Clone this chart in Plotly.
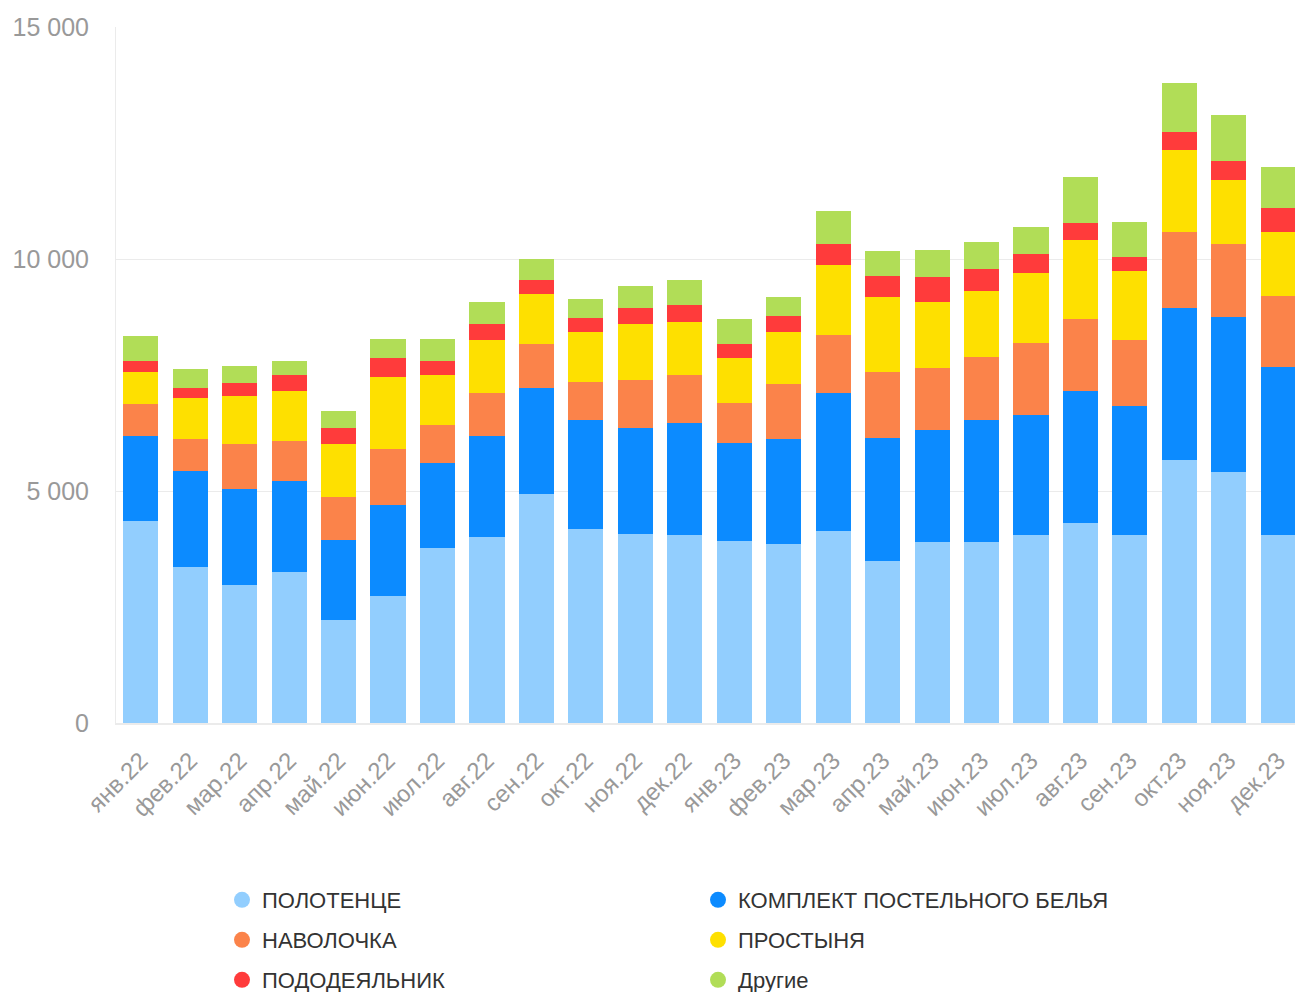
import plotly.graph_objects as go

months = ["янв.22", "фев.22", "мар.22", "апр.22", "май.22", "июн.22", "июл.22", "авг.22",
          "сен.22", "окт.22", "ноя.22", "дек.22", "янв.23", "фев.23", "мар.23", "апр.23",
          "май.23", "июн.23", "июл.23", "авг.23", "сен.23", "окт.23", "ноя.23", "дек.23"]

polotence = [4350, 3370, 2970, 3250, 2220, 2740, 3770, 4010, 4940, 4180, 4070, 4050,
             3920, 3850, 4130, 3500, 3900, 3910, 4060, 4300, 4060, 5670, 5400, 4060]
komplekt = [1830, 2060, 2070, 1960, 1720, 1960, 1830, 2180, 2290, 2350, 2290, 2410,
            2120, 2280, 2990, 2650, 2410, 2630, 2580, 2860, 2780, 3270, 3340, 3610]
navolochka = [690, 690, 970, 860, 930, 1210, 820, 930, 930, 820, 1030, 1030,
              860, 1170, 1250, 1420, 1340, 1340, 1540, 1540, 1420, 1650, 1590, 1540]
prostynya = [690, 880, 1030, 1080, 1140, 1550, 1080, 1140, 1080, 1080, 1210, 1160,
             960, 1130, 1500, 1620, 1420, 1420, 1510, 1720, 1490, 1750, 1380, 1380]
pododeyalnik = [240, 220, 280, 350, 350, 410, 300, 350, 300, 300, 350, 350,
                310, 350, 450, 450, 540, 480, 410, 350, 290, 390, 400, 520]
drugie = [540, 410, 370, 300, 370, 410, 470, 470, 470, 410, 470, 540,
          530, 410, 710, 540, 580, 580, 590, 990, 750, 1060, 990, 880]

series_names = ["ПОЛОТЕНЦЕ", "КОМПЛЕКТ ПОСТЕЛЬНОГО БЕЛЬЯ", "НАВОЛОЧКА",
                "ПРОСТЫНЯ", "ПОДОДЕЯЛЬНИК", "Другие"]
series_values = [polotence, komplekt, navolochka, prostynya, pododeyalnik, drugie]
colors = ["#92CEFE", "#0C8BFF", "#FB834A", "#FEE000", "#FF3B3B", "#B1DD57"]
legend_ids = ["legend", "legend", "legend2", "legend2", "legend3", "legend3"]

y_ticks = [0, 5000, 10000, 15000]
y_tick_labels = ["0", "5 000", "10 000", "15 000"]

FONT = "Liberation Sans, Arial, sans-serif"

fig = go.Figure()
for name, vals, col in zip(series_names, series_values, colors):
    fig.add_trace(go.Bar(x=months, y=vals, name=name, marker=dict(color=col, line=dict(width=0)),
                         showlegend=False))
for name, col, lg in zip(series_names, colors, legend_ids):
    fig.add_trace(go.Scatter(x=[None], y=[None], mode="markers", name=name, legend=lg,
                             marker=dict(color=col, size=16, symbol="circle"), showlegend=True))

# the plot area runs slightly past the right edge of the window, as in the reference
W, H = 1303, 992
ml, mr, mt, mb = 116, 0, 27, 992 - 723
pw = W - ml - mr
ph = H - mt - mb

def px_to_paper_x(px):
    return (px - ml) / pw

def px_to_paper_y(py):
    return (H - mb - py) / ph

leg_common = dict(orientation="h", xanchor="left", yanchor="middle",
                  font=dict(family=FONT, size=22, color="#333333"),
                  entrywidth=431, entrywidthmode="pixels", bgcolor="rgba(0,0,0,0)",
                  itemsizing="trace", traceorder="normal")

fig.update_layout(
    width=W, height=H,
    margin=dict(l=ml, r=mr, t=mt, b=mb, autoexpand=False),
    paper_bgcolor="white", plot_bgcolor="white",
    barmode="stack", bargap=0.29,
    font=dict(family=FONT),
    legend=dict(x=px_to_paper_x(222), y=px_to_paper_y(900), **leg_common),
    legend2=dict(x=px_to_paper_x(222), y=px_to_paper_y(940), **leg_common),
    legend3=dict(x=px_to_paper_x(222), y=px_to_paper_y(980), **leg_common),
    xaxis=dict(tickangle=-45, tickfont=dict(family=FONT, size=24, color="#999999"),
               showline=True, linecolor="#ebebeb", linewidth=2, showgrid=False,
               ticks="", ticklabelstandoff=12, automargin=False),
    yaxis=dict(range=[0, 15000], tickvals=y_ticks, ticktext=y_tick_labels,
               tickfont=dict(family=FONT, size=25, color="#999999"),
               showgrid=True, gridcolor="#ebebeb", gridwidth=1,
               showline=True, linecolor="#ebebeb", linewidth=1,
               zeroline=False, ticks="", ticklabelstandoff=21, automargin=False),
)

fig.write_html("out.html", config={"displayModeBar": False},
               post_script="document.body.style.margin='0';document.body.style.overflow='hidden';")
